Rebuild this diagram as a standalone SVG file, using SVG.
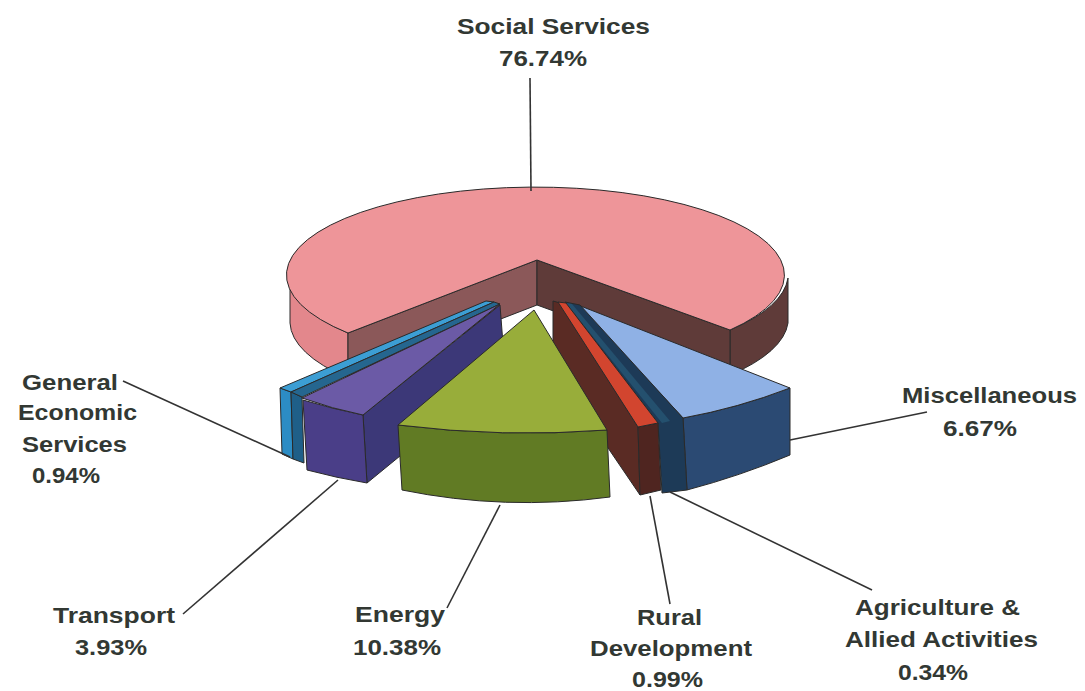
<svg xmlns="http://www.w3.org/2000/svg" width="1085" height="691" viewBox="0 0 1085 691">
<style>
.lbl{font-family:"Liberation Sans",Arial,sans-serif;font-weight:bold;font-size:22px;fill:#323833}
.edge{stroke:#2a2a2a;stroke-width:1;stroke-linejoin:round}
.lead{stroke:#333;stroke-width:1.6;fill:none}
</style>
<rect width="1085" height="691" fill="#fff"/>
<g id="social-services">
<path class="edge" d="M290,278 A249 88 0 0 0 348,333 L348,378 A249 88 0 0 1 290,323 Z" fill="#e3878c"/>
<path class="edge" d="M730,330 A249 88 0 0 0 788,278 L788,323 A249 88 0 0 1 730,375 Z" fill="#5f3b39"/>
<path class="edge" d="M537,260 L348,333 L348,378 L537,305 Z" fill="#8b5859"/>
<path class="edge" d="M537,260 L730,330 L730,375 L537,305 Z" fill="#5f3b39"/>
<path class="edge" d="M537,260 L348,333 A249 88 0 1 1 730,330 Z" fill="#ee9599"/>
<text class="lbl" x="457" y="34" textLength="193" lengthAdjust="spacingAndGlyphs">Social Services</text>
<text class="lbl" x="499" y="66" textLength="88" lengthAdjust="spacingAndGlyphs">76.74%</text>
</g>
<g id="general-economic-services">
<path class="edge" d="M280,388 L291,392 L293,459 L282,454 Z" fill="#2c8cc4"/>
<path class="edge" d="M291,392 L302,397 L304,463 L293,459 Z" fill="#1f5f88"/>
<path class="edge" d="M280,388 L291,392 L494,302 L486,301 Z" fill="#3c9ed4"/>
<path class="edge" d="M291,392 L302,397 L500,304 L494,302 Z" fill="#25668f"/>
<text class="lbl" x="22" y="390" textLength="96" lengthAdjust="spacingAndGlyphs">General</text>
<text class="lbl" x="18" y="420" textLength="119" lengthAdjust="spacingAndGlyphs">Economic</text>
<text class="lbl" x="22" y="452" textLength="105" lengthAdjust="spacingAndGlyphs">Services</text>
<text class="lbl" x="32" y="483" textLength="68" lengthAdjust="spacingAndGlyphs">0.94%</text>
</g>
<g id="transport">
<path class="edge" d="M363,415 L500,305 L505,370 L367,483 Z" fill="#3c3878"/>
<path class="edge" d="M303,400 Q333,409 363,415 L367,483 Q337,478 307,470 Z" fill="#4a3e88"/>
<path class="edge" d="M302,398 L500,304 L363,415 Q333,409 302,398 Z" fill="#6b5aa6"/>
<text class="lbl" x="53" y="623" textLength="122" lengthAdjust="spacingAndGlyphs">Transport</text>
<text class="lbl" x="75" y="655" textLength="72" lengthAdjust="spacingAndGlyphs">3.93%</text>
</g>
<g id="miscellaneous">
<path class="edge" d="M683,418 Q738,408 790,388 L790,455 Q740,476 687,490 Z" fill="#2b4a73"/>
<path class="edge" d="M578,305 L790,388 Q738,408 683,418 Z" fill="#8fb1e5"/>
<text class="lbl" x="902" y="403" textLength="175" lengthAdjust="spacingAndGlyphs">Miscellaneous</text>
<text class="lbl" x="943" y="436" textLength="74" lengthAdjust="spacingAndGlyphs">6.67%</text>
</g>
<g id="agriculture">
<path class="edge" d="M565,302 L580,305 L683,418 L687,490 L662,493 L658,423 Z" fill="#1d3a57"/>
<path d="M566,303 L572,304 L670,421 L662,423 Z" fill="#24506e"/>
<text class="lbl" x="855" y="615" textLength="165" lengthAdjust="spacingAndGlyphs">Agriculture &amp;</text>
<text class="lbl" x="845" y="647" textLength="193" lengthAdjust="spacingAndGlyphs">Allied Activities</text>
<text class="lbl" x="898" y="680" textLength="70" lengthAdjust="spacingAndGlyphs">0.34%</text>
</g>
<g id="rural-development">
<path class="edge" d="M553,301 L560,303 L638,427 L640,495 L553,367 Z" fill="#5a2b24"/>
<path class="edge" d="M638,427 L658,423 L661,490 L640,495 Z" fill="#4f2520"/>
<path class="edge" d="M558,302 L566,303 L658,423 L638,427 Z" fill="#d2452f"/>
<text class="lbl" x="637" y="625" textLength="65" lengthAdjust="spacingAndGlyphs">Rural</text>
<text class="lbl" x="590" y="656" textLength="162" lengthAdjust="spacingAndGlyphs">Development</text>
<text class="lbl" x="632" y="687" textLength="71" lengthAdjust="spacingAndGlyphs">0.99%</text>
</g>
<g id="energy">
<path class="edge" d="M398,425 Q503,438 607,430 L610,497 Q505,511 402,490 Z" fill="#617b24"/>
<path class="edge" d="M534,310 L398,425 Q503,438 607,430 Z" fill="#98ad3a"/>
<text class="lbl" x="355" y="622" textLength="90" lengthAdjust="spacingAndGlyphs">Energy</text>
<text class="lbl" x="353" y="655" textLength="88" lengthAdjust="spacingAndGlyphs">10.38%</text>
</g>
<g id="connectors">
<line class="lead" x1="530" y1="78" x2="531" y2="191"/>
<line class="lead" x1="123" y1="381" x2="290" y2="457"/>
<line class="lead" x1="927" y1="412" x2="790" y2="440"/>
<line class="lead" x1="183" y1="614" x2="338" y2="480"/>
<line class="lead" x1="447" y1="608" x2="500" y2="505"/>
<line class="lead" x1="670" y1="604" x2="650" y2="496"/>
<line class="lead" x1="872" y1="590" x2="670" y2="492"/>
</g>
</svg>
